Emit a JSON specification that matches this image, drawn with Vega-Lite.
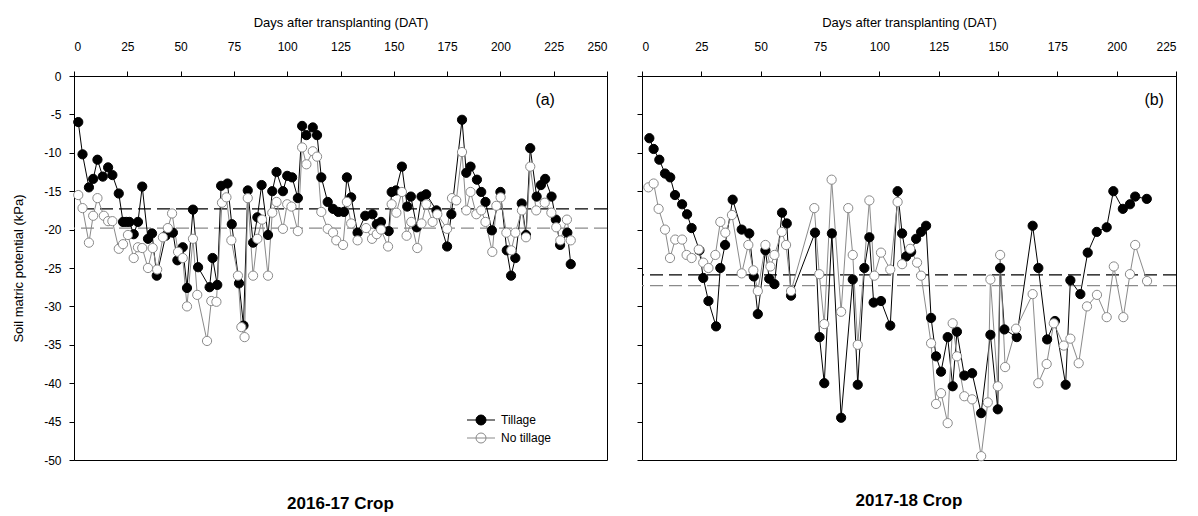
{
  "$schema": "https://vega.github.io/schema/vega-lite/v6.json",
  "padding": {"left": 12, "top": 15, "right": 5, "bottom": 5},
  "config": {
    "font": "Liberation Sans",
    "view": {"stroke": "black", "strokeWidth": 1},
    "axis": {"grid": false, "domainColor": "black", "tickColor": "black", "labelColor": "black", "titleColor": "black", "labelFontSize": 12, "titleFontSize": 13, "titleFontWeight": "normal", "tickSize": 5},
    "title": {"fontSize": 17, "fontWeight": "bold", "color": "black"},
    "legend": {"title": null, "orient": "none", "legendX": 401, "legendY": 338, "symbolType": "M-2.8,0L2.8,0M1,0A1,1,0,1,1,-1,0A1,1,0,1,1,1,0Z", "symbolSize": 100, "labelFontSize": 12, "labelOffset": 14, "rowPadding": 4, "symbolStrokeWidth": 1, "labelColor": "black"}
  },
  "spacing": 27,
  "resolve": {"scale": {"fill": "independent", "stroke": "independent", "x": "independent", "y": "independent"}},
  "datasets": {
    "a": [
      {"s":"Tillage","d":2,"v":-6.0},{"s":"Tillage","d":4,"v":-10.2},{"s":"Tillage","d":7,"v":-14.5},{"s":"Tillage","d":9,"v":-13.4},{"s":"Tillage","d":11,"v":-10.9},{"s":"Tillage","d":13.5,"v":-13.1},{"s":"Tillage","d":16,"v":-11.9},{"s":"Tillage","d":18,"v":-12.9},{"s":"Tillage","d":21,"v":-15.3},{"s":"Tillage","d":23,"v":-19.0},{"s":"Tillage","d":24.5,"v":-19.0},{"s":"Tillage","d":26,"v":-19.0},{"s":"Tillage","d":28,"v":-20.6},{"s":"Tillage","d":30,"v":-19.0},{"s":"Tillage","d":32,"v":-14.4},{"s":"Tillage","d":34.7,"v":-21.2},{"s":"Tillage","d":36.6,"v":-20.5},{"s":"Tillage","d":38.8,"v":-26.0},{"s":"Tillage","d":43,"v":-20.8},{"s":"Tillage","d":46.4,"v":-20.4},{"s":"Tillage","d":48.5,"v":-24.0},{"s":"Tillage","d":51,"v":-22.3},{"s":"Tillage","d":53,"v":-27.6},{"s":"Tillage","d":55.8,"v":-17.4},{"s":"Tillage","d":58.2,"v":-24.9},{"s":"Tillage","d":63.6,"v":-27.5},{"s":"Tillage","d":65,"v":-23.7},{"s":"Tillage","d":67.2,"v":-27.2},{"s":"Tillage","d":69,"v":-14.3},{"s":"Tillage","d":72,"v":-14.0},{"s":"Tillage","d":74,"v":-19.3},{"s":"Tillage","d":77.4,"v":-27.0},{"s":"Tillage","d":79.5,"v":-32.5},{"s":"Tillage","d":81.5,"v":-14.9},{"s":"Tillage","d":84,"v":-21.7},{"s":"Tillage","d":86,"v":-18.4},{"s":"Tillage","d":88,"v":-14.2},{"s":"Tillage","d":91,"v":-20.7},{"s":"Tillage","d":93,"v":-15.0},{"s":"Tillage","d":95,"v":-12.5},{"s":"Tillage","d":98,"v":-15.0},{"s":"Tillage","d":100,"v":-13.0},{"s":"Tillage","d":102.3,"v":-13.2},{"s":"Tillage","d":105,"v":-15.9},{"s":"Tillage","d":107,"v":-6.5},{"s":"Tillage","d":109,"v":-7.7},{"s":"Tillage","d":112,"v":-6.7},{"s":"Tillage","d":114,"v":-7.7},{"s":"Tillage","d":116,"v":-13.2},{"s":"Tillage","d":119,"v":-16.4},{"s":"Tillage","d":121.5,"v":-17.3},{"s":"Tillage","d":124,"v":-17.7},{"s":"Tillage","d":126.6,"v":-17.7},{"s":"Tillage","d":128,"v":-13.2},{"s":"Tillage","d":130,"v":-15.8},{"s":"Tillage","d":133,"v":-20.4},{"s":"Tillage","d":136.6,"v":-18.2},{"s":"Tillage","d":140,"v":-18.0},{"s":"Tillage","d":142,"v":-19.3},{"s":"Tillage","d":144,"v":-19.0},{"s":"Tillage","d":147.6,"v":-20.2},{"s":"Tillage","d":149,"v":-15.1},{"s":"Tillage","d":151,"v":-14.9},{"s":"Tillage","d":153.8,"v":-11.8},{"s":"Tillage","d":156.3,"v":-17.0},{"s":"Tillage","d":158,"v":-15.7},{"s":"Tillage","d":160.8,"v":-19.7},{"s":"Tillage","d":163,"v":-15.7},{"s":"Tillage","d":165.2,"v":-15.4},{"s":"Tillage","d":170,"v":-17.5},{"s":"Tillage","d":175,"v":-22.2},{"s":"Tillage","d":177,"v":-18.0},{"s":"Tillage","d":182,"v":-5.7},{"s":"Tillage","d":184,"v":-12.6},{"s":"Tillage","d":186,"v":-11.8},{"s":"Tillage","d":189,"v":-13.5},{"s":"Tillage","d":191,"v":-15.1},{"s":"Tillage","d":193,"v":-16.4},{"s":"Tillage","d":196,"v":-20.1},{"s":"Tillage","d":200,"v":-15.1},{"s":"Tillage","d":203,"v":-22.7},{"s":"Tillage","d":205,"v":-26.0},{"s":"Tillage","d":207,"v":-23.7},{"s":"Tillage","d":210,"v":-16.6},{"s":"Tillage","d":212,"v":-20.7},{"s":"Tillage","d":214,"v":-9.4},{"s":"Tillage","d":217,"v":-15.7},{"s":"Tillage","d":219,"v":-14.2},{"s":"Tillage","d":221,"v":-13.4},{"s":"Tillage","d":224,"v":-15.7},{"s":"Tillage","d":226,"v":-18.7},{"s":"Tillage","d":228,"v":-22.0},{"s":"Tillage","d":231.4,"v":-20.4},{"s":"Tillage","d":233,"v":-24.5},
      {"s":"No tillage","d":2,"v":-15.5},{"s":"No tillage","d":4,"v":-17.2},{"s":"No tillage","d":7,"v":-21.7},{"s":"No tillage","d":9,"v":-18.2},{"s":"No tillage","d":11,"v":-15.9},{"s":"No tillage","d":14,"v":-18.2},{"s":"No tillage","d":16,"v":-18.9},{"s":"No tillage","d":18,"v":-18.9},{"s":"No tillage","d":21,"v":-22.5},{"s":"No tillage","d":23,"v":-21.9},{"s":"No tillage","d":25.3,"v":-20.7},{"s":"No tillage","d":28,"v":-23.7},{"s":"No tillage","d":30,"v":-22.3},{"s":"No tillage","d":32,"v":-22.4},{"s":"No tillage","d":34.7,"v":-25.0},{"s":"No tillage","d":36.9,"v":-22.4},{"s":"No tillage","d":39,"v":-25.2},{"s":"No tillage","d":41.7,"v":-21.0},{"s":"No tillage","d":44,"v":-19.8},{"s":"No tillage","d":46,"v":-17.9},{"s":"No tillage","d":48.8,"v":-22.9},{"s":"No tillage","d":51,"v":-23.7},{"s":"No tillage","d":53,"v":-30.0},{"s":"No tillage","d":55.8,"v":-21.2},{"s":"No tillage","d":57.8,"v":-28.5},{"s":"No tillage","d":62.4,"v":-34.5},{"s":"No tillage","d":64.4,"v":-29.3},{"s":"No tillage","d":66.8,"v":-29.4},{"s":"No tillage","d":69.4,"v":-16.5},{"s":"No tillage","d":71.5,"v":-15.8},{"s":"No tillage","d":73.8,"v":-21.4},{"s":"No tillage","d":76.9,"v":-26.0},{"s":"No tillage","d":78.5,"v":-32.7},{"s":"No tillage","d":80,"v":-34.0},{"s":"No tillage","d":81.5,"v":-15.9},{"s":"No tillage","d":84,"v":-26.0},{"s":"No tillage","d":86,"v":-21.2},{"s":"No tillage","d":88.2,"v":-18.7},{"s":"No tillage","d":91,"v":-26.0},{"s":"No tillage","d":93,"v":-17.8},{"s":"No tillage","d":95,"v":-16.4},{"s":"No tillage","d":98,"v":-19.9},{"s":"No tillage","d":100,"v":-16.7},{"s":"No tillage","d":102,"v":-17.0},{"s":"No tillage","d":105,"v":-20.2},{"s":"No tillage","d":107,"v":-9.3},{"s":"No tillage","d":109,"v":-11.5},{"s":"No tillage","d":112,"v":-9.8},{"s":"No tillage","d":114,"v":-10.5},{"s":"No tillage","d":116,"v":-17.7},{"s":"No tillage","d":119,"v":-19.9},{"s":"No tillage","d":121.5,"v":-20.4},{"s":"No tillage","d":123,"v":-21.4},{"s":"No tillage","d":126.2,"v":-22.0},{"s":"No tillage","d":128,"v":-16.4},{"s":"No tillage","d":130,"v":-19.2},{"s":"No tillage","d":133,"v":-21.4},{"s":"No tillage","d":137,"v":-19.8},{"s":"No tillage","d":139.8,"v":-21.2},{"s":"No tillage","d":142,"v":-20.6},{"s":"No tillage","d":144,"v":-20.0},{"s":"No tillage","d":147.3,"v":-22.2},{"s":"No tillage","d":149,"v":-16.7},{"s":"No tillage","d":151.2,"v":-17.8},{"s":"No tillage","d":153.8,"v":-15.1},{"s":"No tillage","d":156,"v":-20.8},{"s":"No tillage","d":158.2,"v":-19.0},{"s":"No tillage","d":161,"v":-22.4},{"s":"No tillage","d":163,"v":-19.2},{"s":"No tillage","d":165.2,"v":-16.7},{"s":"No tillage","d":168.2,"v":-19.0},{"s":"No tillage","d":170.4,"v":-18.0},{"s":"No tillage","d":175,"v":-19.9},{"s":"No tillage","d":177.3,"v":-15.9},{"s":"No tillage","d":179.3,"v":-16.2},{"s":"No tillage","d":182,"v":-9.9},{"s":"No tillage","d":184,"v":-17.5},{"s":"No tillage","d":186,"v":-15.1},{"s":"No tillage","d":188.7,"v":-18.0},{"s":"No tillage","d":191,"v":-17.5},{"s":"No tillage","d":193,"v":-19.0},{"s":"No tillage","d":196.2,"v":-22.9},{"s":"No tillage","d":198.1,"v":-16.9},{"s":"No tillage","d":200.1,"v":-15.8},{"s":"No tillage","d":202.8,"v":-20.4},{"s":"No tillage","d":205.1,"v":-22.7},{"s":"No tillage","d":207,"v":-20.4},{"s":"No tillage","d":210.1,"v":-17.5},{"s":"No tillage","d":212,"v":-21.0},{"s":"No tillage","d":214,"v":-11.8},{"s":"No tillage","d":216.8,"v":-17.5},{"s":"No tillage","d":220.8,"v":-16.5},{"s":"No tillage","d":223.9,"v":-17.8},{"s":"No tillage","d":226.2,"v":-19.7},{"s":"No tillage","d":228.1,"v":-21.4},{"s":"No tillage","d":231.2,"v":-18.7},{"s":"No tillage","d":233,"v":-21.4}
    ],
    "b": [
      {"s":"Tillage","d":3.1,"v":-8.1},{"s":"Tillage","d":4.9,"v":-9.5},{"s":"Tillage","d":7.3,"v":-10.9},{"s":"Tillage","d":9.7,"v":-12.7},{"s":"Tillage","d":11.9,"v":-13.2},{"s":"Tillage","d":13.9,"v":-15.5},{"s":"Tillage","d":16.9,"v":-16.7},{"s":"Tillage","d":19,"v":-18.0},{"s":"Tillage","d":20.9,"v":-19.8},{"s":"Tillage","d":24.2,"v":-22.7},{"s":"Tillage","d":25.8,"v":-26.3},{"s":"Tillage","d":28,"v":-29.3},{"s":"Tillage","d":31.2,"v":-32.6},{"s":"Tillage","d":33,"v":-25.0},{"s":"Tillage","d":35,"v":-22.0},{"s":"Tillage","d":38.2,"v":-16.1},{"s":"Tillage","d":42,"v":-20.0},{"s":"Tillage","d":45.2,"v":-20.5},{"s":"Tillage","d":47.1,"v":-26.1},{"s":"Tillage","d":48.8,"v":-31.0},{"s":"Tillage","d":52,"v":-22.7},{"s":"Tillage","d":53.6,"v":-26.4},{"s":"Tillage","d":55.8,"v":-27.1},{"s":"Tillage","d":59,"v":-17.8},{"s":"Tillage","d":61,"v":-19.2},{"s":"Tillage","d":62.8,"v":-28.6},{"s":"Tillage","d":72.9,"v":-20.4},{"s":"Tillage","d":74.8,"v":-34.0},{"s":"Tillage","d":76.8,"v":-40.0},{"s":"Tillage","d":80,"v":-20.5},{"s":"Tillage","d":83.9,"v":-44.5},{"s":"Tillage","d":88.8,"v":-26.5},{"s":"Tillage","d":90.9,"v":-40.2},{"s":"Tillage","d":93.7,"v":-25.0},{"s":"Tillage","d":95.8,"v":-21.0},{"s":"Tillage","d":97.6,"v":-29.5},{"s":"Tillage","d":100.7,"v":-29.3},{"s":"Tillage","d":104.6,"v":-32.5},{"s":"Tillage","d":107.7,"v":-15.0},{"s":"Tillage","d":109.6,"v":-20.5},{"s":"Tillage","d":111.3,"v":-23.5},{"s":"Tillage","d":113.4,"v":-22.9},{"s":"Tillage","d":115.5,"v":-21.2},{"s":"Tillage","d":117.6,"v":-20.3},{"s":"Tillage","d":119.7,"v":-19.5},{"s":"Tillage","d":121.8,"v":-31.5},{"s":"Tillage","d":123.9,"v":-36.5},{"s":"Tillage","d":126,"v":-38.5},{"s":"Tillage","d":128.8,"v":-34.0},{"s":"Tillage","d":130.9,"v":-40.4},{"s":"Tillage","d":132.7,"v":-33.3},{"s":"Tillage","d":135.8,"v":-39.0},{"s":"Tillage","d":139.1,"v":-38.7},{"s":"Tillage","d":142.9,"v":-43.9},{"s":"Tillage","d":146.8,"v":-33.7},{"s":"Tillage","d":149.9,"v":-43.4},{"s":"Tillage","d":150.9,"v":-25.0},{"s":"Tillage","d":152.7,"v":-33.0},{"s":"Tillage","d":157.9,"v":-34.0},{"s":"Tillage","d":164.6,"v":-19.5},{"s":"Tillage","d":167,"v":-25.0},{"s":"Tillage","d":170.7,"v":-34.3},{"s":"Tillage","d":174,"v":-31.9},{"s":"Tillage","d":178.5,"v":-40.2},{"s":"Tillage","d":180.5,"v":-26.6},{"s":"Tillage","d":184.7,"v":-28.4},{"s":"Tillage","d":187.8,"v":-23.0},{"s":"Tillage","d":191.6,"v":-20.3},{"s":"Tillage","d":195.8,"v":-19.7},{"s":"Tillage","d":198.6,"v":-15.0},{"s":"Tillage","d":202.6,"v":-17.3},{"s":"Tillage","d":205.6,"v":-16.7},{"s":"Tillage","d":207.8,"v":-15.7},{"s":"Tillage","d":212.7,"v":-16.0},
      {"s":"No tillage","d":2.7,"v":-14.5},{"s":"No tillage","d":4.9,"v":-14.0},{"s":"No tillage","d":7,"v":-17.3},{"s":"No tillage","d":9.7,"v":-20.0},{"s":"No tillage","d":11.8,"v":-23.7},{"s":"No tillage","d":14,"v":-21.3},{"s":"No tillage","d":16.9,"v":-21.3},{"s":"No tillage","d":18.8,"v":-23.3},{"s":"No tillage","d":20.9,"v":-23.7},{"s":"No tillage","d":23.9,"v":-22.6},{"s":"No tillage","d":25.8,"v":-24.3},{"s":"No tillage","d":28,"v":-25.0},{"s":"No tillage","d":30.9,"v":-23.3},{"s":"No tillage","d":33,"v":-19.0},{"s":"No tillage","d":35.1,"v":-20.4},{"s":"No tillage","d":37.9,"v":-18.1},{"s":"No tillage","d":42,"v":-25.7},{"s":"No tillage","d":44.8,"v":-22.0},{"s":"No tillage","d":46.9,"v":-25.3},{"s":"No tillage","d":48.8,"v":-28.0},{"s":"No tillage","d":52,"v":-22.0},{"s":"No tillage","d":54.1,"v":-24.8},{"s":"No tillage","d":55.8,"v":-23.3},{"s":"No tillage","d":58.9,"v":-20.3},{"s":"No tillage","d":60.7,"v":-22.0},{"s":"No tillage","d":62.8,"v":-28.0},{"s":"No tillage","d":72.6,"v":-17.2},{"s":"No tillage","d":74.7,"v":-25.8},{"s":"No tillage","d":76.8,"v":-32.3},{"s":"No tillage","d":79.9,"v":-13.5},{"s":"No tillage","d":83.9,"v":-30.7},{"s":"No tillage","d":86.9,"v":-17.2},{"s":"No tillage","d":88.8,"v":-23.3},{"s":"No tillage","d":90.9,"v":-35.0},{"s":"No tillage","d":95.8,"v":-16.2},{"s":"No tillage","d":97.9,"v":-26.0},{"s":"No tillage","d":100.7,"v":-23.0},{"s":"No tillage","d":104.6,"v":-25.2},{"s":"No tillage","d":107.7,"v":-16.4},{"s":"No tillage","d":109.6,"v":-24.5},{"s":"No tillage","d":113,"v":-22.5},{"s":"No tillage","d":115.9,"v":-24.3},{"s":"No tillage","d":117.6,"v":-26.0},{"s":"No tillage","d":121.8,"v":-34.8},{"s":"No tillage","d":123.9,"v":-42.7},{"s":"No tillage","d":126,"v":-41.3},{"s":"No tillage","d":128.8,"v":-45.2},{"s":"No tillage","d":130.9,"v":-32.2},{"s":"No tillage","d":132.7,"v":-36.5},{"s":"No tillage","d":135.8,"v":-41.7},{"s":"No tillage","d":139.1,"v":-42.1},{"s":"No tillage","d":142.9,"v":-49.5},{"s":"No tillage","d":145.7,"v":-42.5},{"s":"No tillage","d":146.8,"v":-26.5},{"s":"No tillage","d":149.9,"v":-40.4},{"s":"No tillage","d":150.9,"v":-23.3},{"s":"No tillage","d":153,"v":-37.9},{"s":"No tillage","d":157.6,"v":-32.9},{"s":"No tillage","d":164.6,"v":-28.4},{"s":"No tillage","d":167,"v":-40.0},{"s":"No tillage","d":170.5,"v":-37.5},{"s":"No tillage","d":173.5,"v":-32.2},{"s":"No tillage","d":177.7,"v":-35.1},{"s":"No tillage","d":180.5,"v":-34.2},{"s":"No tillage","d":184,"v":-37.4},{"s":"No tillage","d":187.5,"v":-30.0},{"s":"No tillage","d":191.7,"v":-28.5},{"s":"No tillage","d":195.8,"v":-31.4},{"s":"No tillage","d":198.8,"v":-24.8},{"s":"No tillage","d":202.8,"v":-31.4},{"s":"No tillage","d":205.6,"v":-25.8},{"s":"No tillage","d":207.8,"v":-22.0},{"s":"No tillage","d":212.8,"v":-26.7}
    ],
    "ma": [{"s":"Tillage","v":-17.3},{"s":"No tillage","v":-19.8}],
    "mb": [{"s":"Tillage","v":-25.9},{"s":"No tillage","v":-27.3}],
    "la": [{"d":221,"v":-3.1,"t":"(a)"}],
    "lb": [{"d":215.8,"v":-3.1,"t":"(b)"}]
  },
  "hconcat": [
    {
      "width": 533,
      "height": 384,
      "title": {"text": "2016-17 Crop", "orient": "bottom", "offset": 30},
      "encoding": {
        "y": {"field": "v", "type": "quantitative", "scale": {"domain": [-50, 0], "nice": false, "zero": false},
          "axis": {"orient": "left", "values": [-50,-45,-40,-35,-30,-25,-20,-15,-10,-5,0], "labelExpr": "datum.value == 0 ? '0' : '-' + abs(datum.value)", "labelPadding": 8, "title": "Soil matric potential (kPa)", "titlePadding": 18}}
      },
      "layer": [
        {
          "data": {"name": "ma"},
          "mark": {"type": "rule", "strokeDash": [13, 6], "strokeWidth": 1.2},
          "encoding": {
            "stroke": {"field": "s", "type": "nominal", "scale": {"domain": ["Tillage", "No tillage"], "range": ["black", "#8a8a8a"]}}
          }
        },
        {
          "data": {"name": "a"},
          "mark": {"type": "line", "strokeWidth": 1},
          "encoding": {
            "x": {"field": "d", "type": "quantitative", "scale": {"domain": [0, 250], "nice": false},
              "axis": {"orient": "top", "values": [0,25,50,75,100,125,150,175,200,225,250], "labelPadding": 18, "title": "Days after transplanting (DAT)", "titlePadding": 11}},
            "stroke": {"field": "s", "type": "nominal", "scale": {"domain": ["Tillage", "No tillage"], "range": ["black", "#8a8a8a"]}},
            "order": {"field": "d", "type": "quantitative"}
          }
        },
        {
          "data": {"name": "a"},
          "mark": {"type": "point", "shape": "circle", "size": 85, "strokeWidth": 1, "opacity": 1, "fillOpacity": 1, "filled": false},
          "encoding": {
            "x": {"field": "d", "type": "quantitative"},
            "fill": {"field": "s", "type": "nominal", "scale": {"domain": ["Tillage", "No tillage"], "range": ["black", "white"]}},
            "stroke": {"field": "s", "type": "nominal", "scale": {"domain": ["Tillage", "No tillage"], "range": ["black", "#8a8a8a"]}},
            "order": {"field": "s", "sort": "descending"}
          }
        },
        {
          "data": {"name": "la"},
          "mark": {"type": "text", "fontSize": 16, "color": "black"},
          "encoding": {
            "x": {"field": "d", "type": "quantitative"},
            "text": {"field": "t"}
          }
        }
      ]
    },
    {
      "width": 534,
      "height": 384,
      "title": {"text": "2017-18 Crop", "orient": "bottom", "offset": 30},
      "encoding": {
        "y": {"field": "v", "type": "quantitative", "scale": {"domain": [-50, 0], "nice": false, "zero": false},
          "axis": {"orient": "left", "values": [-50,-45,-40,-35,-30,-25,-20,-15,-10,-5,0], "labels": false, "title": null}}
      },
      "layer": [
        {
          "data": {"name": "mb"},
          "mark": {"type": "rule", "strokeDash": [13, 6], "strokeWidth": 1.2},
          "encoding": {
            "stroke": {"field": "s", "type": "nominal", "scale": {"domain": ["Tillage", "No tillage"], "range": ["black", "#8a8a8a"]}, "legend": null}
          }
        },
        {
          "data": {"name": "b"},
          "mark": {"type": "line", "strokeWidth": 1},
          "encoding": {
            "x": {"field": "d", "type": "quantitative", "scale": {"domain": [0, 225], "nice": false},
              "axis": {"orient": "top", "values": [0,25,50,75,100,125,150,175,200,225], "labelPadding": 18, "title": "Days after transplanting (DAT)", "titlePadding": 11}},
            "stroke": {"field": "s", "type": "nominal", "scale": {"domain": ["Tillage", "No tillage"], "range": ["black", "#8a8a8a"]}, "legend": null},
            "order": {"field": "d", "type": "quantitative"}
          }
        },
        {
          "data": {"name": "b"},
          "mark": {"type": "point", "shape": "circle", "size": 85, "strokeWidth": 1, "opacity": 1, "fillOpacity": 1, "filled": false},
          "encoding": {
            "x": {"field": "d", "type": "quantitative"},
            "fill": {"field": "s", "type": "nominal", "scale": {"domain": ["Tillage", "No tillage"], "range": ["black", "white"]}, "legend": null},
            "stroke": {"field": "s", "type": "nominal", "scale": {"domain": ["Tillage", "No tillage"], "range": ["black", "#8a8a8a"]}, "legend": null},
            "order": {"field": "s", "sort": "descending"}
          }
        },
        {
          "data": {"name": "lb"},
          "mark": {"type": "text", "fontSize": 16, "color": "black"},
          "encoding": {
            "x": {"field": "d", "type": "quantitative"},
            "text": {"field": "t"}
          }
        }
      ]
    }
  ]
}
